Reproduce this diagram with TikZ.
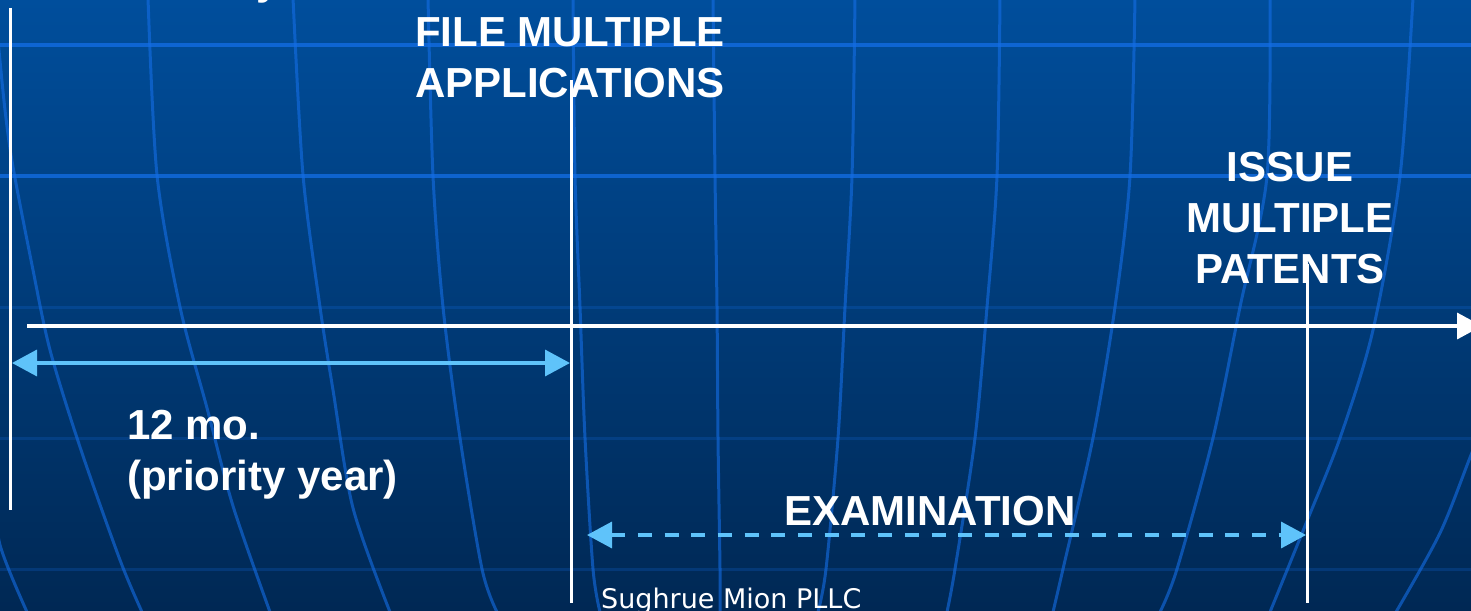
\documentclass[tikz,border=0pt]{standalone}
\usepackage{fontspec}
\setmainfont{Liberation Sans}
\newfontfamily\firmfont{DejaVu Sans}
\usetikzlibrary{arrows.meta,positioning}

\definecolor{slidetop}{RGB}{0,78,156}
\definecolor{slidebot}{RGB}{0,40,84}
\definecolor{gridblue}{RGB}{20,110,230}
\definecolor{spanblue}{RGB}{95,195,250}

\begin{document}
\begin{tikzpicture}[x=1pt, y=-1pt,
    meridian/.style={gridblue, opacity=0.6, line width=3pt},
    latitude/.style={gridblue, opacity=0.75, line width=3.5pt},
    latitude faint/.style={gridblue, opacity=0.22, line width=3pt},
    marker/.style={white, line width=3pt},
    span/.style={spanblue, line width=3.5pt, <->, >={Triangle[length=25pt,width=26pt]}},
    event/.style={white, font=\bfseries\fontsize{42}{51}\selectfont, align=center, inner sep=0pt, anchor=north}]

    \useasboundingbox (0,0) rectangle (1471,610);
    \shade[top color=slidetop, bottom color=slidebot] (0,0) rectangle (1471,610);

    \draw[latitude] (0,45) -- (1471,45);
    \draw[latitude] (0,176) -- (1471,176);
    \draw[latitude faint] (0,307) -- (1471,307);
    \draw[latitude faint] (0,438) -- (1471,438);
    \draw[latitude faint] (0,569) -- (1471,569);

    \draw[meridian] plot[smooth] coordinates {(-8,480) (0,545) (27,612)};
    \draw[meridian] plot[smooth] coordinates {(-2,40) (5,110) (13,167) (32,265) (50,350) (80,447) (120,560) (142,612)};
    \draw[meridian] plot[smooth] coordinates {(148,-2) (157,175) (180,307) (207,408) (233,506) (270,612)};
    \draw[meridian] plot[smooth] coordinates {(293,-2) (303,175) (320,307) (333,390) (353,508) (390,612)};
    \draw[meridian] plot[smooth] coordinates {(428,-2) (433,176) (443,307) (460,438) (482,569) (497,612)};
    \draw[meridian] plot[smooth] coordinates {(573,-2) (575,176) (580,307) (585,438) (593,569) (600,612)};
    \draw[meridian] plot[smooth] coordinates {(713,-2) (715,176) (717,307) (718,438) (720,569) (720,612)};
    \draw[meridian] plot[smooth] coordinates {(855,-2) (852,176) (845,307) (838,438) (826,569) (818,612)};
    \draw[meridian] plot[smooth] coordinates {(1000,-2) (997,176) (987,307) (975,438) (955,569) (947,612)};
    \draw[meridian] plot[smooth] coordinates {(1135,-2) (1130,176) (1115,307) (1093,438) (1063,569) (1053,612)};
    \draw[meridian] plot[smooth] coordinates {(1270,-2) (1267,176) (1240,307) (1213,438) (1177,569) (1160,612)};
    \draw[meridian] plot[smooth] coordinates {(1413,-2) (1400,176) (1373,330) (1340,438) (1307,521) (1270,612)};
    \draw[meridian] plot[smooth] coordinates {(1490,410) (1471,455) (1440,533) (1396,612)};

    \node[event, anchor=base] (cutoff) at (268,-5) {y};
    \node[event] (file) at (570,17) {FILE MULTIPLE\\APPLICATIONS};
    \node[event] (issue) at (1290,152) {ISSUE\\MULTIPLE\\PATENTS};
    \node[event, align=left, anchor=north west] (prio) at (127,410) {12 mo.\\(priority year)};
    \node[event] (exam) at (930,496) {EXAMINATION};
    \node[white, inner sep=0pt, anchor=base west, font=\firmfont\fontsize{27}{27}\selectfont] (firm) at (601,608) {Sughrue Mion PLLC};

    \coordinate (t0 top) at (10,8);
    \coordinate (t0 bot) at (10,510);
    \coordinate (t1 top) at (571,80);
    \coordinate (t1 bot) at (571,603);
    \coordinate (t2 top) at (1307,264);
    \coordinate (t2 bot) at (1307,603);
    \coordinate (axis start) at (27,326);
    \coordinate (axis end) at (1482,326);
    \coordinate (prio from) at (12,363);
    \coordinate (prio to) at (570,363);
    \coordinate (exam from) at (587,535);
    \coordinate (exam to) at (1306,535);

    \draw[marker] (t0 top) -- (t0 bot);
    \draw[marker] (t1 top) -- (t1 bot);
    \draw[marker] (t2 top) -- (t2 bot);
    \draw[white, line width=3.5pt, -{Triangle[length=25pt,width=26pt]}] (axis start) -- (axis end);

    \draw[span] (prio from) -- (prio to);
    \draw[span, dash pattern=on 14pt off 12.7pt] (exam from) -- (exam to);

\end{tikzpicture}
\end{document}
